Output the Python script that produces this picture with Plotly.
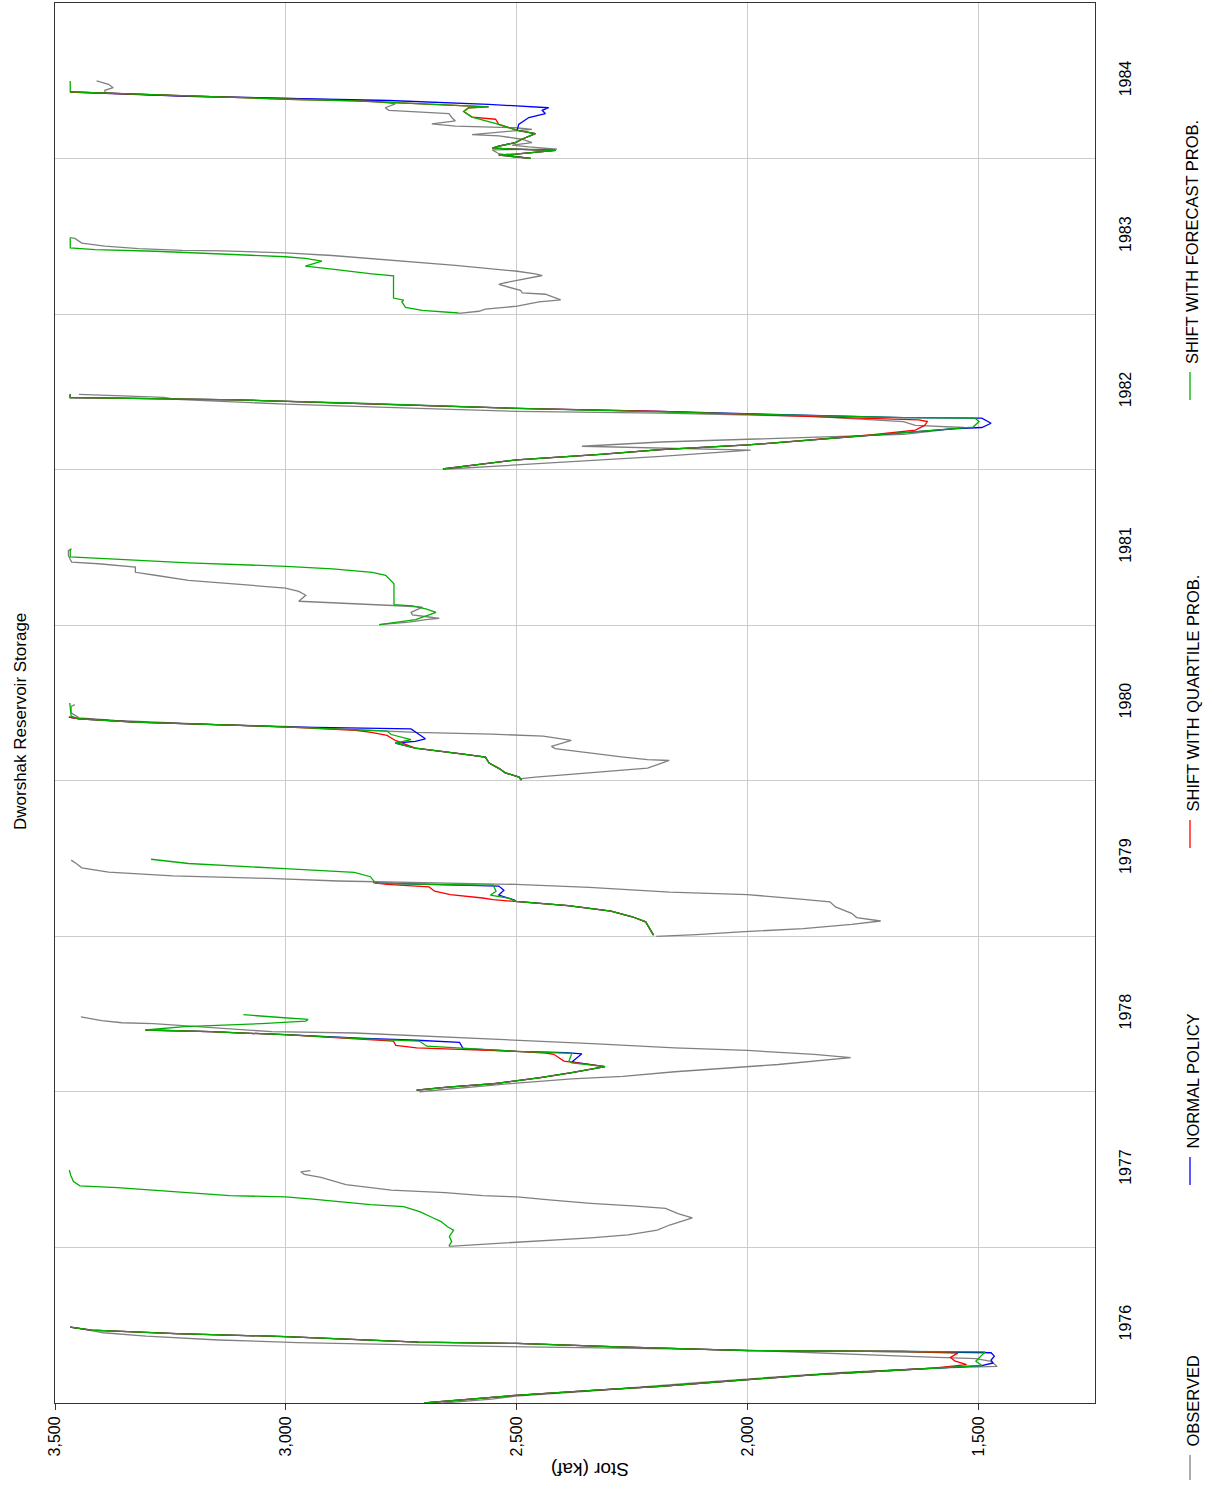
import pandas as pd
import plotly.graph_objects as go

# ---------------- data (day = days after Jan 1 of that year, storage in kaf) -------------
OBS_YEARS = [1976, 1977, 1978, 1979, 1980, 1981, 1982, 1983, 1984]
OBS_DAY = [
    [0, 9, 16, 30, 48, 56, 72, 82, 86, 98, 104, 109, 115, 120, 124, 129, 133, 142, 148, 157, 165, 170, 178],
    [2, 7, 11, 16, 22, 29, 40, 52, 69, 79, 91, 97, 103, 111, 118, 121, 128, 134, 143, 147, 164, 171, 177, 180],
    [0, 11, 21, 30, 36, 47, 56, 64, 80, 88, 97, 103, 113, 121, 131, 138, 141, 156, 160, 162, 167, 176],
    [0, 4, 11, 18, 28, 36, 44, 54, 69, 81, 87, 98, 104, 115, 122, 126, 130, 136, 142, 151, 161, 171, 179],
    [5, 9, 15, 24, 30, 48, 50, 56, 66, 76, 81, 95, 105, 110, 114, 123, 128, 132, 142, 148, 160, 175, 179],
    [1, 3, 7, 13, 16, 19, 24, 30, 42, 46, 50, 56, 70, 79, 87, 95, 105, 117, 124, 136, 144, 148, 163, 175, 179],
    [1, 11, 31, 46, 50, 55, 65, 74, 83, 99, 104, 113, 117, 125, 133, 137, 144, 154, 165, 170, 174, 177],
    [2, 7, 12, 19, 29, 34, 47, 50, 56, 70, 74, 84, 91, 95, 101, 115, 128, 138, 144, 149, 150, 154, 160, 167, 178, 180],
    [1, 12, 21, 23, 28, 32, 38, 46, 54, 57, 64, 69, 73, 77, 82, 89, 96, 106, 114, 120, 129, 136, 142, 147, 155, 161, 167, 175, 183],
]
OBS_STOR = [
    [2660, 2555, 2503, 2319, 2109, 1999, 1794, 1598, 1460, 1473, 1506, 1637, 1768, 1912, 1999, 2280, 2555, 2975, 3146, 3303, 3395, 3421, 3467],
    [2647, 2565, 2502, 2430, 2340, 2259, 2196, 2169, 2120, 2151, 2178, 2250, 2340, 2430, 2499, 2574, 2655, 2772, 2835, 2870, 2924, 2960, 2968, 2947],
    [2711, 2605, 2493, 2381, 2270, 2158, 2046, 1934, 1777, 1856, 2001, 2158, 2337, 2501, 2717, 2851, 3030, 3220, 3287, 3355, 3399, 3444],
    [2198, 2111, 2007, 1880, 1775, 1712, 1764, 1775, 1810, 1822, 1880, 2001, 2169, 2343, 2502, 2690, 2887, 3037, 3245, 3384, 3442, 3454, 3465],
    [2495, 2460, 2391, 2287, 2217, 2170, 2217, 2269, 2339, 2417, 2425, 2382, 2443, 2555, 2720, 2893, 3004, 3153, 3370, 3448, 3465, 3465, 3457],
    [2798, 2769, 2733, 2697, 2668, 2690, 2726, 2729, 2704, 2769, 2863, 2972, 2957, 2972, 3001, 3102, 3211, 3283, 3326, 3326, 3406, 3464, 3471, 3471, 3464],
    [2660, 2503, 2188, 1994, 2188, 2359, 2188, 1899, 1663, 1532, 1637, 1663, 1729, 1860, 2188, 2500, 2713, 3001, 3238, 3264, 3369, 3448],
    [2626, 2582, 2568, 2499, 2452, 2405, 2438, 2488, 2492, 2539, 2525, 2474, 2445, 2460, 2499, 2633, 2777, 2900, 3001, 3139, 3225, 3319, 3392, 3442, 3457, 3467],
    [2474, 2539, 2553, 2413, 2474, 2510, 2467, 2489, 2539, 2597, 2525, 2467, 2503, 2633, 2684, 2633, 2640, 2647, 2777, 2785, 2763, 2814, 2994, 3211, 3392, 3392, 3374, 3384, 3410],
]

NORMAL_YEARS = [1976, 1978, 1979, 1980, 1982, 1984]
NORMAL_DAY = [
    [0, 18, 31, 39, 55, 66, 74, 82, 88, 94, 101, 110, 118, 121, 123, 132, 140, 143, 156, 163, 171, 178],
    [4, 11, 19, 33, 45, 59, 70, 89, 92, 95, 101, 116, 121, 125, 134, 141, 145],
    [3, 14, 34, 46, 59, 72, 82, 85, 97, 108, 118, 122, 125],
    [2, 9, 19, 29, 42, 56, 63, 77, 89, 93, 99, 114, 122, 127, 132, 138, 146, 150],
    [2, 23, 36, 47, 58, 70, 82, 96, 99, 109, 121, 122, 129, 137, 144, 156, 164, 168, 169, 177],
    [1, 5, 9, 11, 20, 22, 25, 30, 38, 46, 59, 67, 81, 97, 106, 114, 120, 128, 137, 142, 147, 154, 157],
]
NORMAL_STOR = [
    [2700, 2503, 2319, 2188, 1999, 1860, 1729, 1598, 1493, 1469, 1473, 1466, 1473, 1663, 1999, 2280, 2500, 2713, 3001, 3238, 3421, 3467],
    [2717, 2650, 2549, 2449, 2381, 2309, 2381, 2359, 2393, 2501, 2616, 2624, 2717, 2829, 3002, 3164, 3304],
    [2204, 2210, 2221, 2250, 2296, 2389, 2502, 2505, 2539, 2528, 2539, 2690, 2806],
    [2490, 2495, 2525, 2538, 2560, 2568, 2616, 2720, 2763, 2720, 2698, 2720, 2729, 3004, 3153, 3327, 3448, 3470],
    [2660, 2500, 2319, 2188, 1999, 1860, 1729, 1558, 1493, 1473, 1493, 1663, 1926, 2188, 2500, 2844, 3106, 3369, 3467, 3467],
    [2470, 2503, 2539, 2503, 2416, 2489, 2553, 2539, 2503, 2489, 2460, 2499, 2496, 2474, 2438, 2445, 2431, 2561, 2777, 2994, 3211, 3392, 3467],
]

QUART_YEARS = [1976, 1978, 1979, 1980, 1982, 1984]
QUART_DAY = [
    [0, 18, 31, 39, 55, 66, 74, 82, 90, 99, 107, 117, 121, 123, 132, 140, 143, 156, 163, 171, 178],
    [4, 11, 19, 33, 45, 59, 72, 88, 91, 95, 103, 109, 119, 123, 134, 141, 145],
    [3, 14, 34, 46, 59, 72, 82, 86, 90, 98, 106, 116, 122, 126],
    [2, 9, 19, 29, 42, 56, 63, 77, 95, 107, 114, 119, 127, 132, 138, 146, 150],
    [2, 23, 36, 47, 58, 70, 82, 93, 104, 113, 117, 122, 130, 137, 144, 156, 164, 168, 169, 177],
    [1, 5, 9, 11, 20, 22, 25, 30, 38, 46, 59, 67, 81, 93, 98, 111, 120, 122, 129, 136, 140, 147, 154, 157],
]
QUART_STOR = [
    [2700, 2503, 2319, 2188, 1999, 1860, 1729, 1598, 1526, 1552, 1561, 1545, 1663, 1999, 2280, 2500, 2713, 3001, 3238, 3421, 3467],
    [2717, 2650, 2549, 2449, 2381, 2309, 2398, 2420, 2437, 2501, 2717, 2762, 2767, 2829, 3002, 3164, 3304],
    [2204, 2210, 2221, 2250, 2296, 2389, 2502, 2551, 2574, 2644, 2678, 2690, 2782, 2811],
    [2490, 2495, 2525, 2538, 2560, 2568, 2616, 2720, 2763, 2781, 2815, 2850, 3004, 3153, 3327, 3448, 3470],
    [2660, 2500, 2319, 2188, 1999, 1860, 1729, 1637, 1617, 1611, 1630, 1794, 1999, 2188, 2500, 2844, 3106, 3369, 3467, 3467],
    [2470, 2503, 2539, 2503, 2416, 2489, 2553, 2539, 2503, 2489, 2460, 2499, 2539, 2546, 2597, 2615, 2604, 2561, 2705, 2850, 2994, 3211, 3392, 3467],
]

FCST_YEARS = [1976, 1977, 1978, 1979, 1980, 1981, 1982, 1983, 1984]
FCST_DAY = [
    [0, 18, 31, 39, 55, 66, 74, 82, 88, 98, 106, 120, 121, 123, 132, 140, 143, 156, 163, 171, 178],
    [3, 13, 25, 40, 48, 60, 69, 83, 95, 100, 113, 118, 121, 132, 140, 144, 154, 169, 181],
    [4, 11, 19, 33, 45, 59, 68, 72, 90, 95, 107, 119, 124, 134, 141, 145, 153, 160, 166, 170, 175, 181],
    [3, 14, 34, 46, 59, 72, 82, 89, 97, 106, 120, 122, 125, 140, 150, 159, 171, 181],
    [2, 9, 19, 29, 42, 56, 63, 77, 89, 97, 109, 117, 127, 132, 138, 146, 152, 183],
    [1, 5, 13, 30, 38, 45, 48, 97, 117, 124, 132, 138, 146, 156, 160, 179],
    [2, 23, 36, 47, 58, 70, 82, 96, 100, 113, 121, 122, 129, 137, 144, 156, 164, 168, 169, 177],
    [3, 9, 16, 29, 33, 38, 90, 95, 106, 113, 125, 131, 135, 142, 148, 152, 156, 180],
    [1, 5, 9, 11, 20, 22, 25, 30, 38, 46, 59, 67, 81, 98, 111, 120, 122, 129, 136, 140, 147, 154, 157, 183],
]
FCST_STOR = [
    [2700, 2503, 2319, 2188, 1999, 1860, 1729, 1598, 1493, 1506, 1499, 1486, 1663, 1999, 2280, 2500, 2713, 3001, 3238, 3421, 3467],
    [2647, 2641, 2646, 2637, 2650, 2664, 2682, 2709, 2745, 2817, 2942, 3001, 3122, 3257, 3365, 3446, 3460, 3466, 3469],
    [2717, 2650, 2549, 2449, 2381, 2309, 2381, 2387, 2381, 2501, 2695, 2711, 2829, 3002, 3164, 3304, 3220, 3053, 2957, 2952, 3019, 3092],
    [2204, 2210, 2221, 2250, 2296, 2389, 2502, 2516, 2557, 2545, 2551, 2690, 2806, 2817, 2852, 3002, 3211, 3292],
    [2490, 2495, 2525, 2538, 2560, 2568, 2616, 2720, 2763, 2729, 2772, 2781, 3004, 3153, 3327, 3448, 3465, 3468],
    [2798, 2769, 2719, 2675, 2697, 2726, 2766, 2766, 2784, 2813, 2899, 3000, 3211, 3392, 3467, 3467],
    [2660, 2500, 2319, 2188, 1999, 1860, 1729, 1558, 1512, 1499, 1508, 1663, 1926, 2188, 2500, 2844, 3106, 3369, 3467, 3467],
    [2626, 2705, 2741, 2749, 2745, 2767, 2767, 2814, 2900, 2958, 2922, 2958, 3001, 3139, 3283, 3413, 3467, 3467],
    [2470, 2503, 2539, 2503, 2416, 2489, 2553, 2539, 2503, 2489, 2460, 2499, 2539, 2597, 2615, 2604, 2561, 2705, 2850, 2994, 3211, 3392, 3467, 3467],
]

SERIES_NAMES = ["OBSERVED", "NORMAL POLICY", "SHIFT WITH QUARTILE PROB.", "SHIFT WITH FORECAST PROB."]
SERIES_COLORS = ["#808080", "#0000ff", "#ff0000", "#00b000"]
STOR_TICKS = [3500, 3000, 2500, 2000, 1500]
TITLE = "Dworshak Reservoir Storage"
AXIS_TITLE = "Stor (kaf)"

# ---------------- build ----------------
W, H = 1209, 1491
ML, MR, MT, MB = 55, 114, 3, 88
PW, PH = W - ML - MR, H - MT - MB


def px_x(px):
    return (px - ML) / PW


def px_y(py):
    return (H - MB - py) / PH


def build(years, days, stors):
    ys, xs = [], []
    for yr, d, s in zip(years, days, stors):
        base = pd.Timestamp(f"{yr}-01-01")
        ys += [(base + pd.Timedelta(days=v)).strftime("%Y-%m-%d") for v in d] + [None]
        xs += list(s) + [None]
    return xs, ys


FONT = "Liberation Sans, Arial, sans-serif"

fig = go.Figure()
all_series = [
    (OBS_YEARS, OBS_DAY, OBS_STOR),
    (NORMAL_YEARS, NORMAL_DAY, NORMAL_STOR),
    (QUART_YEARS, QUART_DAY, QUART_STOR),
    (FCST_YEARS, FCST_DAY, FCST_STOR),
]
for (yrs, d, s), name, col in zip(all_series, SERIES_NAMES, SERIES_COLORS):
    xs, ys = build(yrs, d, s)
    fig.add_trace(go.Scatter(x=xs, y=ys, mode="lines", name=name,
                             line=dict(color=col, width=1.3), connectgaps=False,
                             showlegend=False))

fig.update_layout(
    width=W, height=H,
    margin=dict(l=ML, r=MR, t=MT, b=MB),
    paper_bgcolor="white", plot_bgcolor="white",
    xaxis=dict(range=[3500, 1248], tickvals=STOR_TICKS, tickformat=",",
               tickangle=-90, ticks="outside", ticklen=6, tickcolor="#333",
               showgrid=True, gridcolor="#cccccc", gridwidth=1,
               showline=True, linecolor="#333", linewidth=1, mirror=True,
               zeroline=False, tickfont=dict(family=FONT, size=16, color="#000")),
    yaxis=dict(type="date", range=["1976-01-01", "1985-01-01"], side="right",
               dtick="M12", tick0="1976-01-01", tickformat="%Y",
               ticklabelmode="period", tickangle=-90, ticks="",
               ticklabelstandoff=16,
               showgrid=True, gridcolor="#cccccc", gridwidth=1,
               showline=True, linecolor="#333", linewidth=1, mirror=True,
               zeroline=False, tickfont=dict(family=FONT, size=16, color="#000")),
)

annotations = [
    dict(text=TITLE, x=px_x(20), y=px_y(722), xref="paper", yref="paper",
         textangle=-90, showarrow=False, xanchor="center", yanchor="middle",
         font=dict(family=FONT, size=17, color="#000")),
    dict(text=AXIS_TITLE, x=px_x(590), y=px_y(1470), xref="paper", yref="paper",
         textangle=180, showarrow=False, xanchor="center", yanchor="middle",
         font=dict(family=FONT, size=19, color="#000")),
]
shapes = []
legend_line = [(1455, 1480), (1157, 1185), (820, 848), (372, 400)]
for name, col, (a, b) in zip(SERIES_NAMES, SERIES_COLORS, legend_line):
    shapes.append(dict(type="line", xref="paper", yref="paper",
                       x0=px_x(1190), x1=px_x(1190), y0=px_y(a), y1=px_y(b),
                       line=dict(color=col, width=1.3)))
    annotations.append(dict(text=name, x=px_x(1192), y=px_y(a - 6),
                            xref="paper", yref="paper", textangle=-90,
                            showarrow=False, xanchor="center", yanchor="bottom",
                            font=dict(family=FONT, size=16.5, color="#000")))
fig.update_layout(annotations=annotations, shapes=shapes)

fig.write_html("out.html")
